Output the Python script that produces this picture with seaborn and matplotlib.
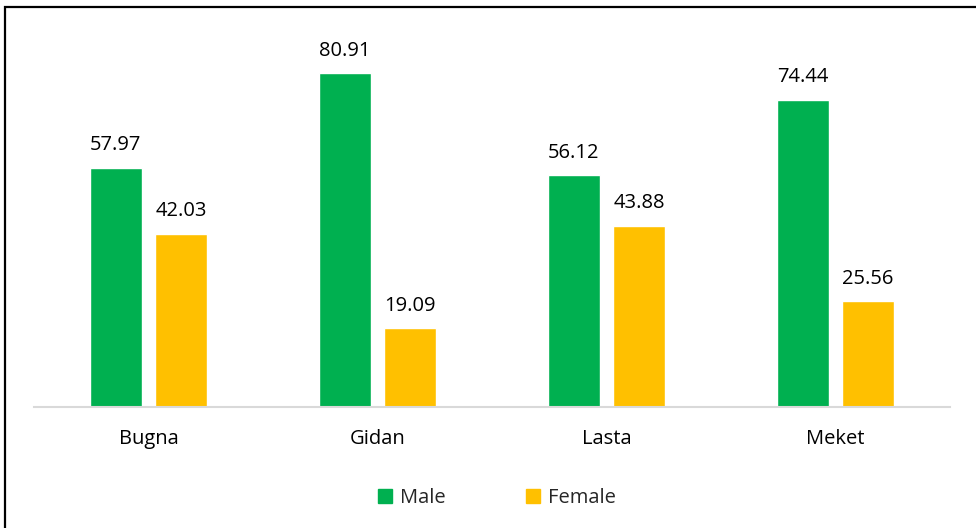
import matplotlib
matplotlib.use("Agg")
import matplotlib.pyplot as plt
import seaborn as sns
import pandas as pd
from matplotlib.patches import Rectangle

districts = ["Bugna", "Gidan", "Lasta", "Meket"]
male = [57.97, 80.91, 56.12, 74.44]
female = [42.03, 19.09, 43.88, 25.56]
series = ["Male", "Female"]
colors = {"Male": "#00B050", "Female": "#FFC000"}

df = pd.DataFrame({
    "District": districts * 2,
    "Sex": ["Male"] * 4 + ["Female"] * 4,
    "Value": male + female,
})

sns.set_theme(style="white")
plt.rcParams["font.family"] = ["Open Sans", "DejaVu Sans"]

W, H = 976, 528
fig = plt.figure(figsize=(W / 100, H / 100), dpi=100)
ax_left, ax_right = 34, 950
ax_top, ax_bottom = 35.5, 407
ax = fig.add_axes([ax_left / W, 1 - ax_bottom / H, (ax_right - ax_left) / W, (ax_bottom - ax_top) / H])

sns.barplot(data=df, x="District", y="Value", hue="Sex", hue_order=series,
            palette=colors, width=0.57, gap=0.2, ax=ax, legend=False,
            saturation=1)

ax.set_ylim(0, 90)
ax.set_xlim(-0.5, 3.5)
for c in ax.containers:
    ax.bar_label(c, labels=[f"{v:.2f}" for v in c.datavalues], padding=9,
                 fontsize=14.5, color="#000000")

for s in ["top", "right", "left"]:
    ax.spines[s].set_visible(False)
ax.spines["bottom"].set_color("#d9d9d9")
ax.spines["bottom"].set_linewidth(1.5)
ax.set_yticks([])
ax.set_xlabel("")
ax.set_ylabel("")
ax.tick_params(axis="x", length=0, pad=16, labelsize=14.5, labelcolor="#000000")

# legend
handles = [Rectangle((0, 0), 1, 1, color=colors[s]) for s in series]
fig.legend(handles, series, loc="center", bbox_to_anchor=(497 / W, 1 - 498 / H),
           ncol=2, frameon=False, fontsize=14.5, handlelength=0.7, handleheight=0.7,
           columnspacing=4.0, handletextpad=0.4)

# outer border (chart frame, cropped at right/bottom)
fig.patches.append(Rectangle((5 / W, -0.1), 1.2, 1 - 7 / H + 0.1,
                             transform=fig.transFigure, fill=False,
                             edgecolor="black", linewidth=1.6))

fig.savefig("out.png", dpi=100)
